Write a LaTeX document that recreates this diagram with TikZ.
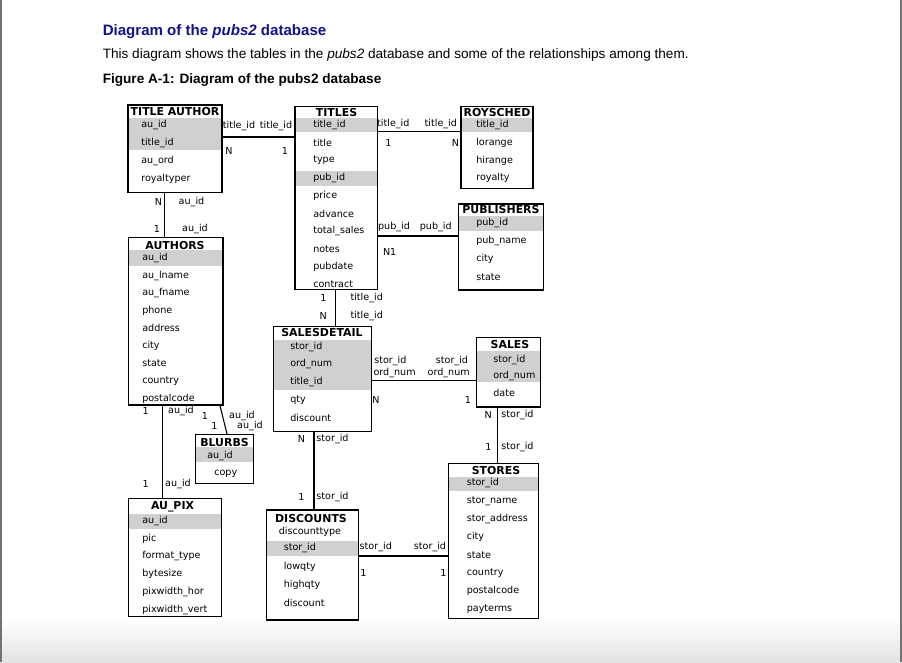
\documentclass[tikz,border=0pt]{standalone}
\usepackage{fontspec}
\setmainfont{Liberation Sans}
\newfontfamily\djv{DejaVu Sans}
\usetikzlibrary{fit}
\definecolor{ttlblue}{RGB}{18,18,140}
\definecolor{shadegray}{RGB}{208,208,208}
\begin{document}
\begin{tikzpicture}[x=0.75pt,y=-0.75pt,
  tbl/.style={draw, line width=0.9pt, inner sep=0pt},
  hdr/.style={font=\djv\bfseries\fontsize{8.2}{9}\selectfont, inner sep=0pt},
  row/.style={font=\djv\fontsize{7.2}{8}\selectfont, anchor=west, inner sep=0pt},
  lbl/.style={font=\djv\fontsize{7.2}{8}\selectfont, inner sep=0pt},
  link/.style={line width=0.8pt},
  shd/.style={fill=shadegray}]
\useasboundingbox (0,0) rectangle (902,662);
% page
\shade[top color=white, bottom color=black!11] (0,618) rectangle (902,662);
\draw[black!55, line width=1.4pt] (1,0) -- (1,662);
\draw[black!55, line width=1.4pt] (901,0) -- (901,662);
% heading texts
\node[anchor=base west, inner sep=0pt, text=ttlblue, font=\bfseries\fontsize{11.3}{13}\selectfont] (title) at (102.5,35.5) {Diagram of the \textit{pubs2} database};
\node[anchor=base west, inner sep=0pt, font=\fontsize{10.2}{12}\selectfont] (intro) at (102.5,58) {This diagram shows the tables in the \textit{pubs2} database and some of the relationships among them.};
\node[anchor=base west, inner sep=0pt, font=\bfseries\fontsize{10.2}{12}\selectfont] (caption) at (102.5,83) {Figure A-1: Diagram of the pubs2 database};

% ---------- shading bands ----------
\fill[shd] (128,117.5) rectangle (222,149.5);   % titleauthor
\fill[shd] (295,118) rectangle (377.5,132);     % titles title_id
\fill[shd] (295,171) rectangle (377.5,185.5);   % titles pub_id
\fill[shd] (461,118) rectangle (533,132);       % roysched
\fill[shd] (458.5,216) rectangle (543.5,231);   % publishers
\fill[shd] (128.5,249.5) rectangle (223,266);   % authors
\fill[shd] (195.5,447) rectangle (253.5,462);   % blurbs
\fill[shd] (128.5,514) rectangle (221.5,529);   % au_pix
\fill[shd] (273.5,339.5) rectangle (371.5,389.5); % salesdetail
\fill[shd] (476.5,351) rectangle (540.5,382);   % sales
\fill[shd] (266.5,541) rectangle (358.5,556);   % discounts
\fill[shd] (448.5,477) rectangle (538.5,490.5); % stores

% ---------- tables ----------
\node[tbl, fit={(128,105) (222,192.5)}] (ta) {};
\node[hdr] (ta-h) at (175,112) {TITLE AUTHOR};
\foreach \t [count=\i] in {au\_id, title\_id, au\_ord, royaltyper}
  \node[row] (ta-\i) at (141,{124.5+(\i-1)*18}) {\t};

\node[tbl, fit={(295,106.5) (377.5,289.5)}] (titles) {};
\node[hdr] (titles-h) at (336.5,113) {TITLES};
\foreach \t [count=\i] in {title\_id, title, type, pub\_id, price, advance, total\_sales, notes, pubdate, contract}
  \node[row] (titles-\i) at (313,{125+(\i-1)*17.7}) {\t};

\node[tbl, fit={(461,106.5) (533,188.5)}] (roy) {};
\node[hdr] (roy-h) at (497,113) {ROYSCHED};
\foreach \t [count=\i] in {title\_id, lorange, hirange, royalty}
  \node[row] (roy-\i) at (476,{125+(\i-1)*17.7}) {\t};

\node[tbl, fit={(458.5,204) (543.5,290)}] (pub) {};
\node[hdr] (pub-h) at (501,210) {PUBLISHERS};
\foreach \t [count=\i] in {pub\_id, pub\_name, city, state}
  \node[row] (pub-\i) at (476,{223.3+(\i-1)*18}) {\t};

\node[tbl, fit={(128.5,237.5) (223,405)}] (authors) {};
\node[hdr] (authors-h) at (175,245.5) {AUTHORS};
\foreach \t [count=\i] in {au\_id, au\_lname, au\_fname, phone, address, city, state, country, postalcode}
  \node[row] (authors-\i) at (142,{258+(\i-1)*17.6}) {\t};

\node[tbl, fit={(195.5,434.5) (253.5,483.5)}] (blurbs) {};
\node[hdr] (blurbs-h) at (224.5,442.5) {BLURBS};
\node[row] (blurbs-1) at (207,456) {au\_id};
\node[row] (blurbs-2) at (214,473.5) {copy};

\node[tbl, fit={(128.5,498.5) (221.5,616.5)}] (aupix) {};
\node[hdr] (aupix-h) at (172.5,506.5) {AU\_PIX};
\foreach \t [count=\i] in {au\_id, pic, format\_type, bytesize, pixwidth\_hor, pixwidth\_vert}
  \node[row] (aupix-\i) at (142,{521+(\i-1)*17.7}) {\t};

\node[tbl, fit={(273.5,326.5) (371.5,431.5)}] (sd) {};
\node[hdr] (sd-h) at (322,333) {SALESDETAIL};
\foreach \t [count=\i] in {stor\_id, ord\_num, title\_id, qty, discount}
  \node[row] (sd-\i) at (290,{346.7+(\i-1)*17.7}) {\t};

\node[tbl, fit={(476.5,337.5) (540.5,407)}] (sales) {};
\node[hdr] (sales-h) at (510,344.5) {SALES};
\node[row] (sales-1) at (493,360) {stor\_id};
\node[row] (sales-2) at (493,376) {ord\_num};
\node[row] (sales-3) at (493,393.3) {date};

\node[tbl, fit={(266.5,510) (358.5,620)}] (disc) {};
\node[hdr] (disc-h) at (311,518.3) {DISCOUNTS};
\node[row] (disc-0) at (278.5,531.7) {discounttype};
\foreach \t [count=\i] in {stor\_id, lowqty, highqty, discount}
  \node[row] (disc-\i) at (283.5,{548.3+(\i-1)*18.3}) {\t};

\node[tbl, fit={(448.5,463.5) (538.5,618.5)}] (stores) {};
\node[hdr] (stores-h) at (496,470.7) {STORES};
\foreach \t [count=\i] in {stor\_id, stor\_name, stor\_address, city, state, country, postalcode, payterms}
  \node[row] (stores-\i) at (466.5,{483.3+(\i-1)*18}) {\t};

% ---------- connectors ----------
\coordinate (k1) at (0,137);
\draw[link] (ta.east |- k1) -- (titles.west |- k1);
\coordinate (k2) at (164.3,0);
\draw[link] (ta.south -| k2) -- (authors.north -| k2);
\coordinate (k3) at (0,131.7);
\draw[link] (titles.east |- k3) -- (roy.west |- k3);
\coordinate (k4) at (0,236);
\draw[link] (titles.east |- k4) -- (pub.west |- k4);
\coordinate (k5) at (335.5,0);
\draw[link] (titles.south -| k5) -- (sd.north -| k5);
\coordinate (k6) at (0,380.7);
\draw[link] (sd.east |- k6) -- (sales.west |- k6);
\coordinate (k7) at (314,0);
\draw[link] (sd.south -| k7) -- (disc.north -| k7);
\coordinate (k8) at (497.3,0);
\draw[link] (sales.south -| k8) -- (stores.north -| k8);
\coordinate (k9) at (0,556);
\draw[link] (disc.east |- k9) -- (stores.west |- k9);
\coordinate (k10) at (162.3,0);
\draw[link] (authors.south -| k10) -- (aupix.north -| k10);
\coordinate (k11a) at (220,0);
\coordinate (k11b) at (227,0);
\draw[link] (authors.south -| k11a) -- (blurbs.north -| k11b);

% ---------- connector labels ----------
\node[lbl] (l1) at (239,125.7) {title\_id};
\node[lbl] (l2) at (276,125.7) {title\_id};
\node[lbl] (l3) at (229,150.7) {N};
\node[lbl] (l4) at (285,150.7) {1};

\node[lbl] (l5) at (158.5,201.7) {N};
\node[lbl] (l6) at (191.5,201.7) {au\_id};
\node[lbl] (l7) at (157,229) {1};
\node[lbl] (l8) at (195,229) {au\_id};

\node[lbl] (l9) at (393.3,124) {title\_id};
\node[lbl] (l10) at (440.8,124) {title\_id};
\node[lbl] (l11) at (388.5,143.3) {1};
\node[lbl] (l12) at (455.5,143.3) {N};

\node[lbl] (l13) at (394,226.7) {pub\_id};
\node[lbl] (l14) at (435.8,226.7) {pub\_id};
\node[lbl] (l15) at (389.7,251.7) {N1};

\node[lbl] (l16) at (323.3,298.3) {1};
\node[lbl] (l17) at (366.7,298.3) {title\_id};
\node[lbl] (l18) at (323.3,315.7) {N};
\node[lbl] (l19) at (366.7,315.7) {title\_id};

\node[lbl, anchor=west] (l20) at (374,361) {stor\_id};
\node[lbl, anchor=west] (l21) at (373.3,373.3) {ord\_num};
\node[lbl, anchor=east] (l22) at (468.3,361) {stor\_id};
\node[lbl, anchor=east] (l23) at (470,373.3) {ord\_num};
\node[lbl] (l24) at (376,400) {N};
\node[lbl] (l25) at (468,400) {1};

\node[lbl] (l26) at (301.5,439) {N};
\node[lbl] (l27) at (332.5,439) {stor\_id};
\node[lbl] (l28) at (301.5,496.7) {1};
\node[lbl] (l29) at (332.5,496.7) {stor\_id};

\node[lbl] (l30) at (488.3,415) {N};
\node[lbl] (l31) at (517.5,415) {stor\_id};
\node[lbl] (l32) at (488.3,446.7) {1};
\node[lbl] (l33) at (517.5,446.7) {stor\_id};

\node[lbl] (l34) at (375.8,547.3) {stor\_id};
\node[lbl] (l35) at (430,547.3) {stor\_id};
\node[lbl] (l36) at (363.3,573.3) {1};
\node[lbl] (l37) at (443.3,573.3) {1};

\node[lbl] (l38) at (145.7,411) {1};
\node[lbl] (l39) at (181,411) {au\_id};
\node[lbl] (l40) at (145.7,484.3) {1};
\node[lbl] (l41) at (178,484.3) {au\_id};

\node[lbl] (l42) at (205,415.7) {1};
\node[lbl] (l43) at (242,415.7) {au\_id};
\node[lbl] (l44) at (214.3,426) {1};
\node[lbl] (l45) at (250,426) {au\_id};
\end{tikzpicture}
\end{document}
